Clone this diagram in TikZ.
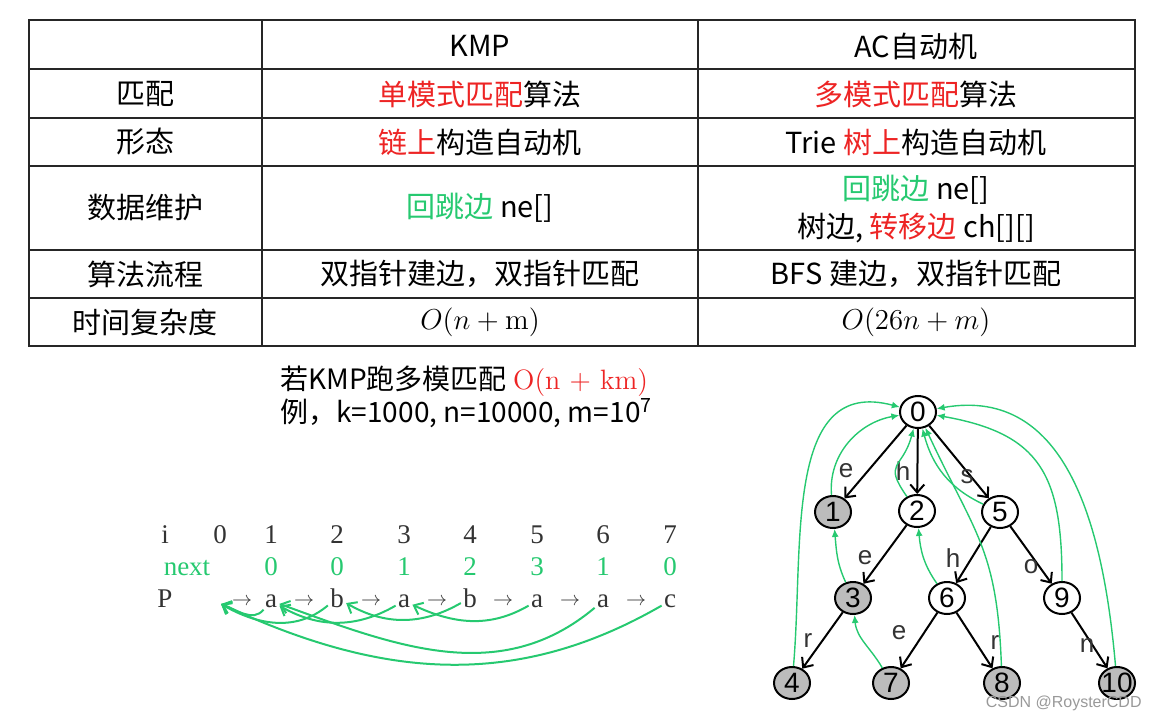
\documentclass[tikz,border=0pt]{standalone}
\usepackage{fontspec}
\newfontfamily\cjk{Noto Sans CJK SC}
\newfontfamily\triefont{Liberation Sans}
\newfontfamily\rowfont{Liberation Serif}
\usetikzlibrary{arrows.meta,shapes.geometric}

\definecolor{hired}{RGB}{237,36,36}
\definecolor{jumpgreen}{RGB}{38,201,112}
\definecolor{leafgray}{RGB}{188,188,188}

\tikzset{
  grid/.style={line width=0.8pt, black!85},
  cell/.style={font=\cjk\fontsize{14.5}{19}\selectfont, inner sep=0pt, align=center},
  note/.style={font=\cjk\fontsize{14}{16}\selectfont, inner sep=0pt, anchor=west},
  kmp/.style={font=\rowfont\fontsize{13.5}{15}\selectfont, inner sep=1pt, anchor=base, text=black!80},
  state/.style={ellipse, draw, line width=1pt, minimum width=18pt, minimum height=16pt,
    inner sep=0pt, font=\triefont\fontsize{14}{15}\selectfont},
  leaf/.style={state, fill=leafgray},
  lbl/.style={font=\triefont\fontsize{13}{14}\selectfont, inner sep=0pt, text=black!80},
  trieedge/.style={line width=1pt, -{Straight Barb[length=4pt,width=7pt]}},
  failedge/.style={jumpgreen, line width=0.7pt, -{Latex[length=4pt,width=3.5pt]}},
  nextedge/.style={jumpgreen, line width=1pt, -{Straight Barb[length=4pt,width=6.5pt]}},
}

\begin{document}
\begin{tikzpicture}[x=0.5pt,y=0.5pt]
\useasboundingbox (0,0) rectangle (1154,-721);

%the table: KMP vs AC
\draw[grid] (29,-20) rectangle (1135,-346);
\foreach \y in {69,118,166,250,298}
  \draw[grid] (29,-\y) -- (1135,-\y);
\foreach \x in {262,698}
  \draw[grid] (\x,-20) -- (\x,-346);

\node[cell] (kmph) at (480,-46) {KMP};
\node[cell] (ach)  at (916,-46) {AC自动机};
\node[cell] (r1)  at (145,-94) {匹配};
\node[cell] (r1k) at (480,-94) {\textcolor{hired}{单模式匹配}算法};
\node[cell] (r1a) at (916,-94) {\textcolor{hired}{多模式匹配}算法};
\node[cell] (r2)  at (145,-142) {形态};
\node[cell] (r2k) at (480,-142) {\textcolor{hired}{链上}构造自动机};
\node[cell] (r2a) at (916,-142) {Trie \textcolor{hired}{树上}构造自动机};
\node[cell] (r3)  at (145,-208) {数据维护};
\node[cell] (r3k) at (480,-208) {\textcolor{jumpgreen}{回跳边} ne[]};
\node[cell] (r3a) at (916,-209) {\textcolor{jumpgreen}{回跳边} ne[]\\树边, \textcolor{hired}{转移边} ch[][]};
\node[cell] (r4)  at (145,-274) {算法流程};
\node[cell] (r4k) at (480,-274) {双指针建边，双指针匹配};
\node[cell] (r4a) at (916,-274) {BFS 建边，双指针匹配};
\node[cell] (r5)  at (145,-322) {时间复杂度};
\node[cell] (r5k) at (480,-322) {$O(n+\mathrm{m})$};
\node[cell] (r5a) at (916,-322) {$O(26n+m)$};

%KMP on many patterns
\node[note] (q1) at (280,-381) {若KMP跑多模匹配 \textcolor{hired}{\rmfamily O(n + km)}};
\node[note] (q2) at (280,-413) {例，k=1000, n=10000, m=10\textsuperscript{7}};

%index row, next row, pattern row
\node[kmp] (irow) at (165,-543) {i};
\foreach \x [count=\i from 0] in {220,271,337,404,470,537,603,670}
  \node[kmp] (i\i) at (\x,-543) {\i};

\node[kmp, text=jumpgreen] (nrow) at (187,-575) {next};
\foreach \x/\v [count=\i] in {271/0,337/0,404/1,470/2,537/3,603/1,670/0}
  \node[kmp, text=jumpgreen] (n\i) at (\x,-575) {\v};

\node[kmp] (prow) at (165,-607) {P};
\foreach \x/\c [count=\i] in {271/a,337/b,404/a,470/b,537/a,603/a,670/c}
  \node[kmp] (p\i) at (\x,-607) {\c};
\foreach \x [count=\i] in {242,304,371,437,503,570,636}
  \node[kmp, font=\fontsize{10}{12}\selectfont] (ar\i) at (\x,-605) {$\rightarrow$};

\coordinate (p0) at (221,-604);
\draw[nextedge] (p1) to[out=-130,in=-20] (p0);
\draw[nextedge] (p2) to[out=-140,in=-30] (p0);
\draw[nextedge] (p3) to[out=-150,in=-30] (p1);
\draw[nextedge] (p4) to[out=-150,in=-30] (p2);
\draw[nextedge] (p5) to[out=-150,in=-25] (p3);
\draw[nextedge] (p6) to[out=-140,in=-20] (p1);
\draw[nextedge] (p7) to[out=-150,in=-25] (p0);

%the trie
\node[state] (t0)  at (918,-412) {0};
\node[leaf]  (t1)  at (833,-512) {1};
\node[state] (t2)  at (917,-511) {2};
\node[state] (t5)  at (1000,-512) {5};
\node[leaf]  (t3)  at (853,-598) {3};
\node[state] (t6)  at (947,-598) {6};
\node[state] (t9)  at (1062,-598) {9};
\node[leaf]  (t4)  at (792,-683) {4};
\node[leaf]  (t7)  at (891,-683) {7};
\node[leaf]  (t8)  at (1002,-683) {8};
\node[leaf, inner xsep=-2pt] (t10) at (1117,-683) {10};

\draw[trieedge] (t0) -- (t1);
\draw[trieedge] (t0) -- (t2);
\draw[trieedge] (t0) -- (t5);
\draw[trieedge] (t2) -- (t3);
\draw[trieedge] (t3) -- (t4);
\draw[trieedge] (t5) -- (t6);
\draw[trieedge] (t5) -- (t9);
\draw[trieedge] (t6) -- (t7);
\draw[trieedge] (t6) -- (t8);
\draw[trieedge] (t9) -- (t10);

\node[lbl] (le1) at (846,-471) {e};
\node[lbl] (lh2) at (903,-471) {h};
\node[lbl] (ls5) at (967,-477) {s};
\node[lbl] (le3) at (865,-558) {e};
\node[lbl] (lh6) at (953,-558) {h};
\node[lbl] (lo9) at (1031,-567) {o};
\node[lbl] (lr4) at (808,-640) {r};
\node[lbl] (le7) at (899,-633) {e};
\node[lbl] (lr8) at (995,-642) {r};
\node[lbl] (ln10) at (1087,-645) {n};

%fail links
\draw[failedge] (t1) to[out=95,in=190] (t0);
\draw[failedge] (t4) to[out=85,in=165,looseness=1.1] (t0);
\draw[failedge] (t3) to[out=115,in=-85] (t1);
\draw[failedge] (t7) to[out=120,in=-85] (t3);
\draw[failedge] (t6) to[out=125,in=-85] (t2);
\draw[failedge] (t2) to[out=125,in=-105,looseness=1.6] (t0);
\draw[failedge] (t5) to[out=155,in=-75] (t0);
\draw[failedge] (t8) to[out=92,in=-65,looseness=1.2] (t0);
\draw[failedge] (t9) to[out=90,in=-10,looseness=1.3] (t0);
\draw[failedge] (t10) to[out=95,in=10,looseness=1.1] (t0);

\node[font=\triefont\fontsize{8}{9}\selectfont, text=black!40, anchor=east, inner sep=0pt] (wm) at (1142,-703) {CSDN @RoysterCDD};

\end{tikzpicture}
\end{document}
